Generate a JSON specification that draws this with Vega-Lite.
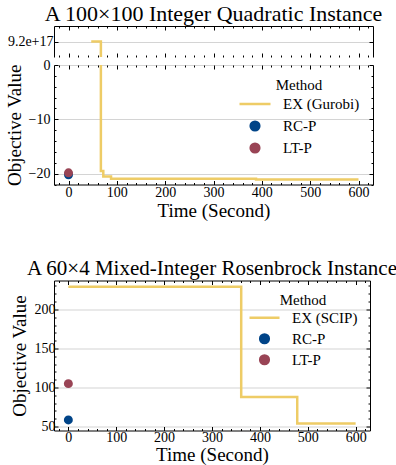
{
  "$schema": "https://vega.github.io/schema/vega-lite/v6.json",
  "padding": {"left": 5, "top": 2, "right": 0, "bottom": 0},
  "background": "white",
  "datasets": {
    "ex1": [
      {"method": "EX (Gurobi)", "time": 47, "value": 9.2e17},
      {"method": "EX (Gurobi)", "time": 67, "value": -19.5},
      {"method": "EX (Gurobi)", "time": 72, "value": -20.55},
      {"method": "EX (Gurobi)", "time": 88, "value": -20.95},
      {"method": "EX (Gurobi)", "time": 388, "value": -21.1},
      {"method": "EX (Gurobi)", "time": 600, "value": -21.1}
    ],
    "pts1": [
      {"method": "RC-P", "time": 0, "value": -20.2},
      {"method": "LT-P", "time": 0, "value": -19.85}
    ],
    "ex2": [
      {"method": "EX (SCIP)", "time": 0, "value": 229},
      {"method": "EX (SCIP)", "time": 361, "value": 88},
      {"method": "EX (SCIP)", "time": 478, "value": 54},
      {"method": "EX (SCIP)", "time": 600, "value": 54}
    ],
    "pts2": [
      {"method": "RC-P", "time": 0, "value": 58.5},
      {"method": "LT-P", "time": 0, "value": 105}
    ]
  },
  "config": {
    "font": "Liberation Serif, DejaVu Serif, serif",
    "view": {"stroke": null},
    "axis": {
      "labelFont": "Liberation Serif, DejaVu Serif, serif", "titleFont": "Liberation Serif, DejaVu Serif, serif",
      "labelFontSize": 14, "titleFontSize": 19, "titleFontWeight": "normal",
      "labelColor": "#000", "titleColor": "#000", "domainColor": "#000", "tickColor": "#000",
      "domainWidth": 1, "tickWidth": 1, "grid": false, "gridColor": "#d4d4d4", "gridWidth": 1.2,
      "labelOverlap": false, "labelFlush": false
    },
    "legend": {"titleFont": "Liberation Serif, DejaVu Serif, serif", "labelFont": "Liberation Serif, DejaVu Serif, serif"},
    "title": {"font": "Liberation Serif, DejaVu Serif, serif", "fontSize": 22, "fontWeight": "normal", "color": "#000"}
  },
  "resolve": {"scale": {"color": "independent"}, "legend": {"color": "independent"}},
  "columns": 1,
  "align": "none",
  "spacing": 36.5,
  "concat": [
    {
      "spacing": 0,
      "resolve": {"scale": {"color": "independent"}, "legend": {"color": "independent"}},
      "vconcat": [
        {
          "width": 319, "height": 31,
          "title": {"text": "A 100×100 Integer Quadratic Instance", "offset": 0},
          "data": {"name": "ex1"},
          "layer": [
            {
              "mark": {"type": "line", "interpolate": "step-after", "color": "#EECC66", "strokeWidth": 2.5, "clip": true},
              "encoding": {
                "x": {"field": "time", "type": "quantitative", "scale": {"domain": [-30, 630], "nice": false, "zero": false},
                  "axis": {"orient": "bottom", "values": [0,100,200,300,400,500,600], "labels": false, "domain": false, "tickSize": -4, "title": null}},
                "y": {"field": "value", "type": "quantitative", "scale": {"domain": [9.0e17, 9.4e17], "nice": false, "zero": false},
                  "axis": {"orient": "left", "values": [9.2e17], "format": ".1e", "grid": true, "tickSize": -4, "title": null, "labelPadding": 5}}
              }
            },
            {
              "mark": {"type": "line", "opacity": 0, "clip": true},
              "encoding": {
                "x": {"field": "time", "type": "quantitative", "scale": {"domain": [-30, 630], "nice": false, "zero": false},
                  "axis": {"orient": "bottom", "values": [-20,20,40,60,80,120,140,160,180,220,240,260,280,320,340,360,380,420,440,460,480,520,540,560,580,620], "labels": false, "domain": false, "tickSize": -2, "title": null}},
                "y": {"field": "value", "type": "quantitative", "scale": {"domain": [9.0e17, 9.4e17], "nice": false, "zero": false}, "axis": null}
              }
            },
            {
              "mark": {"type": "line", "opacity": 0, "clip": true},
              "encoding": {
                "x": {"field": "time", "type": "quantitative", "scale": {"domain": [-30, 630], "nice": false, "zero": false},
                  "axis": {"orient": "top", "values": [0,100,200,300,400,500,600], "labels": false, "domain": true, "tickSize": -4, "title": null}},
                "y": {"field": "value", "type": "quantitative", "scale": {"domain": [9.0e17, 9.4e17], "nice": false, "zero": false},
                  "axis": {"orient": "right", "values": [9.2e17], "labels": false, "domain": true, "tickSize": -4, "title": null}}
              }
            },
            {
              "mark": {"type": "line", "opacity": 0, "clip": true},
              "encoding": {
                "x": {"field": "time", "type": "quantitative", "scale": {"domain": [-30, 630], "nice": false, "zero": false},
                  "axis": {"orient": "top", "values": [-20,20,40,60,80,120,140,160,180,220,240,260,280,320,340,360,380,420,440,460,480,520,540,560,580,620], "labels": false, "domain": false, "tickSize": -2, "title": null}},
                "y": {"field": "value", "type": "quantitative", "scale": {"domain": [9.0e17, 9.4e17], "nice": false, "zero": false}, "axis": null}
              }
            }
          ],
          "resolve": {"axis": {"x": "independent", "y": "independent"}}
        },
        {
          "width": 319, "height": 119.5,
          "layer": [
            {
              "data": {"name": "ex1"},
              "mark": {"type": "line", "interpolate": "step-after", "strokeWidth": 2.5, "clip": true},
              "encoding": {
                "x": {"field": "time", "type": "quantitative", "scale": {"domain": [-30, 630], "nice": false, "zero": false},
                  "axis": {"orient": "bottom", "values": [0,100,200,300,400,500,600], "tickSize": -4, "labelPadding": 5, "title": "Time (Second)", "titlePadding": 2}},
                "y": {"field": "value", "type": "quantitative", "scale": {"domain": [-22, 0], "nice": false, "zero": false},
                  "axis": {"orient": "left", "values": [-20, -10, 0], "grid": true, "tickSize": -4, "labelPadding": 8, "title": "Objective Value", "titlePadding": 4}},
                "color": {"field": "method", "type": "nominal",
                  "scale": {"domain": ["EX (Gurobi)", "RC-P", "LT-P"], "range": ["#EECC66", "#004488", "#994455"]},
                  "legend": {"title": "Method", "orient": "top-right", "offset": 13, "padding": 0,
                    "titleFontSize": 15, "titleFontWeight": "normal", "titleColor": "#000",
                    "titleAnchor": "middle", "titleAlign": "center", "titlePadding": 0,
                    "labelFontSize": 15, "labelColor": "#000", "labelOffset": 11,
                    "symbolType": "stroke", "symbolSize": 961, "symbolStrokeWidth": 2.5, "clipHeight": 22, "rowPadding": 0,
                    "encode": {"symbols": {"update": {
                      "shape": {"signal": "indexof(['RC-P','LT-P'], datum.value) >= 0 ? 'circle' : 'stroke'"},
                      "size": {"signal": "indexof(['RC-P','LT-P'], datum.value) >= 0 ? 75 : 961"},
                      "fill": {"signal": "datum.value === 'RC-P' ? '#004488' : datum.value === 'LT-P' ? '#994455' : 'transparent'"},
                      "stroke": {"signal": "indexof(['RC-P','LT-P'], datum.value) >= 0 ? 'transparent' : '#EECC66'"},
                      "strokeWidth": {"value": 2.5},
                      "opacity": {"value": 1}
                    }}}}}
              }
            },
            {
              "data": {"name": "pts1"},
              "mark": {"type": "point", "filled": true, "size": 80, "opacity": 1},
              "encoding": {
                "x": {"field": "time", "type": "quantitative", "scale": {"domain": [-30, 630], "nice": false, "zero": false},
                  "axis": {"orient": "bottom", "values": [-20,20,40,60,80,120,140,160,180,220,240,260,280,320,340,360,380,420,440,460,480,520,540,560,580,620], "labels": false, "domain": false, "tickSize": -2, "title": null}},
                "y": {"field": "value", "type": "quantitative", "scale": {"domain": [-22, 0], "nice": false, "zero": false},
                  "axis": {"orient": "left", "values": [-22,-18,-16,-14,-12,-8,-6,-4,-2], "labels": false, "domain": false, "tickSize": -2, "title": null}},
                "color": {"field": "method", "type": "nominal",
                  "scale": {"domain": ["EX (Gurobi)", "RC-P", "LT-P"], "range": ["#EECC66", "#004488", "#994455"]}}
              }
            },
            {
              "data": {"name": "pts1"},
              "mark": {"type": "point", "opacity": 0},
              "encoding": {
                "x": {"field": "time", "type": "quantitative", "scale": {"domain": [-30, 630], "nice": false, "zero": false},
                  "axis": {"orient": "top", "values": [0,100,200,300,400,500,600], "labels": false, "domain": false, "tickSize": -4, "title": null}},
                "y": {"field": "value", "type": "quantitative", "scale": {"domain": [-22, 0], "nice": false, "zero": false},
                  "axis": {"orient": "right", "values": [-20, -10, 0], "labels": false, "domain": true, "tickSize": -4, "title": null}}
              }
            },
            {
              "data": {"name": "pts1"},
              "mark": {"type": "point", "opacity": 0},
              "encoding": {
                "x": {"field": "time", "type": "quantitative", "scale": {"domain": [-30, 630], "nice": false, "zero": false},
                  "axis": {"orient": "top", "values": [-20,20,40,60,80,120,140,160,180,220,240,260,280,320,340,360,380,420,440,460,480,520,540,560,580,620], "labels": false, "domain": false, "tickSize": -2, "title": null}},
                "y": {"field": "value", "type": "quantitative", "scale": {"domain": [-22, 0], "nice": false, "zero": false},
                  "axis": {"orient": "right", "values": [-22,-18,-16,-14,-12,-8,-6,-4,-2], "labels": false, "domain": false, "tickSize": -2, "title": null}}
              }
            }
          ],
          "resolve": {"axis": {"x": "independent", "y": "independent"}}
        }
      ]
    },
    {
      "width": 316, "height": 150,
      "title": {"text": "A 60×4 Mixed-Integer Rosenbrock Instance", "offset": 1, "fontSize": 21},
      "layer": [
        {
          "data": {"name": "ex2"},
          "mark": {"type": "line", "interpolate": "step-after", "strokeWidth": 2.5, "clip": true},
          "encoding": {
            "x": {"field": "time", "type": "quantitative", "scale": {"domain": [-30, 630], "nice": false, "zero": false},
              "axis": {"orient": "bottom", "values": [0,100,200,300,400,500,600], "tickSize": -4, "labelPadding": 4, "title": "Time (Second)", "titlePadding": 1}},
            "y": {"field": "value", "type": "quantitative", "scale": {"domain": [45, 237], "nice": false, "zero": false},
              "axis": {"orient": "left", "values": [50, 100, 150, 200], "grid": true, "tickSize": -4, "labelPadding": 3, "title": "Objective Value", "titlePadding": 5}},
            "color": {"field": "method", "type": "nominal",
              "scale": {"domain": ["EX (SCIP)", "RC-P", "LT-P"], "range": ["#EECC66", "#004488", "#994455"]},
              "legend": {"title": "Method", "orient": "top-right", "offset": 12, "padding": 0,
                "titleFontSize": 15, "titleFontWeight": "normal", "titleColor": "#000",
                "titleAnchor": "middle", "titleAlign": "center", "titlePadding": 0,
                "labelFontSize": 15, "labelColor": "#000", "labelOffset": 11,
                "symbolType": "stroke", "symbolSize": 900, "symbolStrokeWidth": 2.5, "clipHeight": 20.5, "rowPadding": 0,
                "encode": {"symbols": {"update": {
                  "shape": {"signal": "indexof(['RC-P','LT-P'], datum.value) >= 0 ? 'circle' : 'stroke'"},
                  "size": {"signal": "indexof(['RC-P','LT-P'], datum.value) >= 0 ? 75 : 900"},
                  "fill": {"signal": "datum.value === 'RC-P' ? '#004488' : datum.value === 'LT-P' ? '#994455' : 'transparent'"},
                  "stroke": {"signal": "indexof(['RC-P','LT-P'], datum.value) >= 0 ? 'transparent' : '#EECC66'"},
                  "strokeWidth": {"value": 2.5},
                  "opacity": {"value": 1}
                }}}}}
          }
        },
        {
          "data": {"name": "pts2"},
          "mark": {"type": "point", "filled": true, "size": 80, "opacity": 1},
          "encoding": {
            "x": {"field": "time", "type": "quantitative", "scale": {"domain": [-30, 630], "nice": false, "zero": false},
              "axis": {"orient": "bottom", "values": [-20,20,40,60,80,120,140,160,180,220,240,260,280,320,340,360,380,420,440,460,480,520,540,560,580,620], "labels": false, "domain": false, "tickSize": -2, "title": null}},
            "y": {"field": "value", "type": "quantitative", "scale": {"domain": [45, 237], "nice": false, "zero": false},
              "axis": {"orient": "left", "values": [60,70,80,90,110,120,130,140,160,170,180,190,210,220,230], "labels": false, "domain": false, "tickSize": -2, "title": null}},
            "color": {"field": "method", "type": "nominal",
              "scale": {"domain": ["EX (SCIP)", "RC-P", "LT-P"], "range": ["#EECC66", "#004488", "#994455"]}}
          }
        },
        {
          "data": {"name": "pts2"},
          "mark": {"type": "point", "opacity": 0},
          "encoding": {
            "x": {"field": "time", "type": "quantitative", "scale": {"domain": [-30, 630], "nice": false, "zero": false},
              "axis": {"orient": "top", "values": [0,100,200,300,400,500,600], "labels": false, "domain": true, "tickSize": -4, "title": null}},
            "y": {"field": "value", "type": "quantitative", "scale": {"domain": [45, 237], "nice": false, "zero": false},
              "axis": {"orient": "right", "values": [50, 100, 150, 200], "labels": false, "domain": true, "tickSize": -4, "title": null}}
          }
        },
        {
          "data": {"name": "pts2"},
          "mark": {"type": "point", "opacity": 0},
          "encoding": {
            "x": {"field": "time", "type": "quantitative", "scale": {"domain": [-30, 630], "nice": false, "zero": false},
              "axis": {"orient": "top", "values": [-20,20,40,60,80,120,140,160,180,220,240,260,280,320,340,360,380,420,440,460,480,520,540,560,580,620], "labels": false, "domain": false, "tickSize": -2, "title": null}},
            "y": {"field": "value", "type": "quantitative", "scale": {"domain": [45, 237], "nice": false, "zero": false},
              "axis": {"orient": "right", "values": [60,70,80,90,110,120,130,140,160,170,180,190,210,220,230], "labels": false, "domain": false, "tickSize": -2, "title": null}}
          }
        }
      ],
      "resolve": {"axis": {"x": "independent", "y": "independent"}}
    }
  ]
}
